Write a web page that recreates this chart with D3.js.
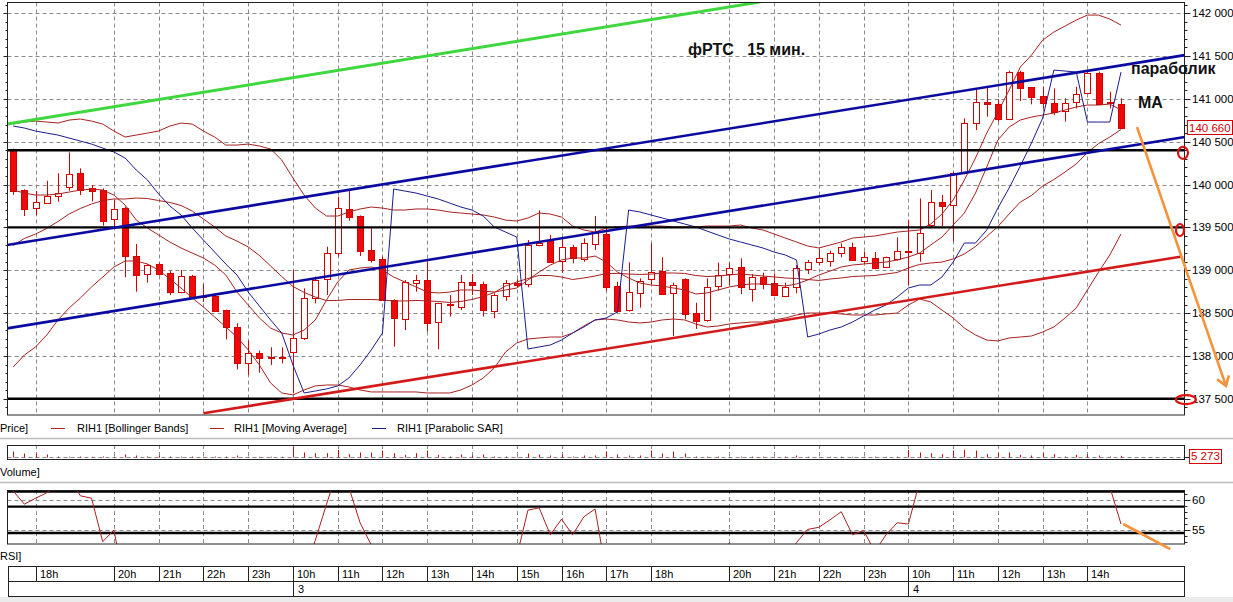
<!DOCTYPE html>
<html><head><meta charset="utf-8">
<script src="https://cdn.jsdelivr.net/npm/d3@7"></script>
<style>
html,body{margin:0;padding:0;background:#fff;}
svg{display:block;}
text{font-family:"Liberation Sans",Arial,sans-serif;}
</style></head><body>
<svg id="c" width="1233" height="602"></svg>
<script>
// ---------- DATA ----------
const openP  = [140410,139936,139723,139793,139874,139968,140131,139956,139936,139606,139723,139166,138953,139073,138964,138750,138937,138695,138704,138536,
138334,137914,138031,137992,137988,138042,138206,138672,138898,139198,139711,139633,139236,139131,138653,138428,138859,138886,138389,138603,
138575,138867,138840,138529,138700,138855,138840,139300,139353,139108,139275,139139,139307,139423,138816,138536,138743,138898,138992,138731,
138894,138498,138420,138816,138956,139034,138789,138925,138848,138704,138801,139023,139093,139100,139198,139267,139100,139139,139034,139131,
139225,139209,139520,139792,139761,140131,140714,140967,140940,140765,141317,141134,141033,140955,140862,140959,141064,141305,140963,140940];
const highP  = [140420,139945,139925,140045,140131,140376,140189,139995,139956,139820,139742,139306,139069,139089,138995,139003,138945,138840,138711,138540,
138381,138179,138062,138101,138101,139003,138789,138925,139275,139859,139936,139640,139489,139159,138661,138886,138945,139100,138622,138711,
138945,138956,138867,138731,138886,138894,139353,139700,139411,139384,139295,139373,139633,139509,138867,139093,138906,139314,139151,138855,
138906,138622,138906,139089,139093,139139,138956,138972,138964,138855,139061,139120,139244,139229,139314,139322,139217,139213,139159,139384,
139586,139839,139936,139878,140150,140772,141115,141142,140994,141329,141329,141140,141142,141123,141006,141142,141317,141317,141084,141006];
const lowP   = [139880,139633,139645,139773,139800,139929,139878,139804,139520,139509,138918,138750,138855,138941,138711,138731,138684,138630,138517,138194,
137844,137778,137805,137895,137914,137564,138186,138614,138711,139159,139579,139166,139089,138645,138109,138303,138750,138284,138078,138459,
138536,138711,138459,138439,138645,138801,138801,139280,139089,138972,139081,139100,139236,138762,138505,138517,138564,138840,138711,138233,
138427,138315,138400,138762,138828,138723,138634,138778,138700,138700,138731,138956,139061,139042,139151,139112,139073,139011,139026,139112,
138828,139100,139501,139516,139334,140120,140636,140792,140734,140753,140975,140936,140889,140811,140734,140889,141056,140940,140889,140648];
const closeP = [139925,139715,139793,139870,139905,140123,139929,139925,139579,139719,139166,138945,139058,138956,138739,138933,138692,138705,138529,138334,
137914,138031,137969,137976,137973,138206,138672,138886,139198,139723,139618,139229,139120,138653,138439,138859,138890,138389,138614,138587,
138867,138828,138536,138711,138855,138836,139295,139320,139100,139275,139151,139322,139431,138809,138529,138750,138879,138984,138719,138828,
138486,138400,138809,138945,139023,138801,138925,138840,138704,138809,139023,139100,139139,139198,139268,139120,139151,139022,139151,139229,
139209,139439,139792,139742,140131,140714,140959,140940,140765,141317,141134,141018,140948,140850,140955,141056,141298,140948,140948,140660];

const bbUpper = [140706,140730,140741,140730,140718,140753,140765,140741,140706,140625,140555,140578,140601,140625,140683,140718,140706,140625,140555,140461,
140461,140473,140450,140415,140286,140076,139878,139726,139633,139633,139680,139715,139738,139726,139703,139703,139715,139715,139703,139680,
139668,139656,139645,139621,139586,139575,139610,139668,139656,139621,139516,139470,139446,139493,139505,139516,139516,139516,139516,139505,
139505,139505,139516,139516,139516,139528,139493,139470,139423,139376,139330,139283,139260,139295,139330,139376,139388,139400,139423,139446,
139458,139470,139540,139656,139820,140053,140310,140601,140846,141103,141371,141511,141686,141780,141850,141920,141978,141978,141931,141861];
const bbLower = [137871,138011,138105,138245,138420,138560,138676,138805,138921,139038,139108,139108,139073,139003,138898,138793,138676,138571,138455,138338,
138221,138070,137895,137685,137568,137545,137603,137650,137661,137661,137638,137603,137580,137580,137580,137580,137580,137568,137568,137568,
137603,137661,137743,137860,138046,138151,138198,138210,138221,138221,138268,138350,138420,138431,138420,138396,138385,138396,138420,138431,
138420,138373,138338,138350,138373,138385,138396,138396,138420,138443,138478,138501,138501,138501,138490,138478,138478,138478,138490,138501,
138595,138665,138630,138536,138443,138326,138245,138186,138175,138210,138221,138233,138280,138338,138443,138560,138770,138980,139178,139423];
const bbMiddle = [139289,139371,139423,139488,139569,139657,139721,139773,139814,139832,139832,139843,139837,139814,139791,139756,139691,139598,139505,139400,
139341,139272,139173,139050,138927,138811,138741,138688,138647,138647,138659,138659,138659,138653,138642,138642,138648,138642,138636,138624,
138636,138659,138694,138741,138816,138863,138904,138939,138939,138921,138892,138910,138933,138962,138963,138956,138951,138956,138968,138968,
138963,138939,138927,138933,138945,138957,138945,138933,138922,138910,138904,138892,138881,138898,138910,138927,138933,138939,138957,138974,
139027,139068,139085,139096,139132,139190,139278,139394,139511,139657,139796,139872,139983,140059,140147,140240,140374,140479,140555,140642];
const maLine = [139936,139901,139878,139878,139890,139913,139936,139948,139936,139878,139761,139586,139493,139411,139330,139260,139201,139143,139061,138945,
138746,138595,138443,138326,138268,138245,138303,138420,138653,138863,139003,139026,139038,139003,138921,138863,138805,138746,138735,138746,
138770,138770,138758,138746,138770,138793,138886,138980,139061,139120,139143,139143,139166,139096,138980,138910,138851,138828,138816,138793,
138770,138723,138735,138770,138805,138828,138840,138840,138828,138816,138840,138886,138945,138991,139038,139061,139073,139085,139096,139120,
139155,139201,139295,139388,139528,139668,139901,140205,140520,140671,140753,140788,140811,140835,140870,140905,140928,140928,140940,140870];
const sarLine = [140683,140660,140625,140601,140578,140543,140508,140473,140426,140380,140310,140170,140053,139890,139750,139645,139493,139353,139213,139073,
138945,138746,138583,138420,138268,137895,137568,137591,137615,137650,137743,137895,138070,138268,139948,139925,139901,139866,139831,139785,
139738,139703,139633,139505,139446,139388,138081,138105,138128,138186,138268,138338,138420,138443,138513,139703,139680,139645,139610,139575,
139540,139505,139458,139411,139365,139330,139295,139260,139213,139178,139120,138221,138256,138303,138338,138396,138466,138536,138595,138688,
138793,138828,138828,138921,139096,139318,139318,139470,139726,139960,140216,140485,140776,141336,141325,141313,140730,140730,140730,141313];

const volume = [19200,12800,12800,9600,3000,2600,3000,2400,3400,2800,9600,6400,3500,6000,3000,2800,3000,2600,3000,2800,
6400,2500,2400,2600,2500,35000,16000,13800,13800,24600,10600,16000,16000,22400,13800,8600,13800,22400,8600,3200,
9600,6400,9600,3200,3000,3500,12800,9600,6400,9600,3200,6400,6400,19200,9600,6400,6400,22400,12800,19200,
12800,3000,2800,3000,2600,3000,2800,2600,3000,2800,6400,2500,2400,2600,2500,2400,2600,2500,2400,2600,
24600,16000,13800,10600,22400,24600,22400,10600,13800,16000,8600,6400,13800,10600,3200,8600,9600,6400,3200,5273];
const rsi = [61.5,59.3,60.3,61.2,62.5,64,60.7,60.3,53.05,55,45.3,45,46,45,42,43,40,40,38,35,
30,33,32,32,32,40,48,53.3,59.3,65,62.1,56.2,52.5,48,44,47,48,45,47,46,
48,48,46,47,49,50.6,58.3,58.7,54.2,56.8,54.2,57.2,58.5,47.8,46,48,50,51,49,50,
47,46,50,51,52.8,51,50,50,49,50,52.9,55.1,55.45,56.7,58.05,54.2,54.9,51.4,54.2,56.2,
56,63,68,67,70,75,77,76,74,78,75,72,70,67,68,69,72,65,62.2,56];

const priceTicks = [137500,138000,138500,139000,139500,140000,140500,141000,141500,142000];
const rsiTicks = [55,60];
const rsiLevels = [61.4,58.9,54.5];
const hourIdx = [2,9,13,17,21,25,29,33,37,41,45,49,53,57,64,68,72,76,80,84,88,92,96];
const hourLabels = ["18h","20h","21h","22h","23h","10h","11h","12h","13h","14h","15h","16h","17h","18h","20h","21h","22h","23h","10h","11h","12h","13h","14h"];
const dayIdx = [25,80];
const dayLabels = ["3","4"];
const hLevels = [140400,139500,137500];
const greenLine = [[-0.55,140706],[66.7,142130]];
const blueLine1 = [[-0.55,139295],[104.7,141511]];
const blueLine2 = [[-0.55,138322],[104.7,140555]];
const redLine = [[17.0,137331],[104.3,139158]];
const orangeArrow = [[100.43,140671],[108.38,137650]];
const rsiArrow = [[99.2,56],[103.4,51.8]];
const circles = [[104.54,140370,5,6],[104.27,139470,4,6],[104.8,137490,10,4.5]];
const legendItems = [["RIH1 [Bollinger Bands]","#b22222"],["RIH1 [Moving Average]","#b22222"],["RIH1 [Parabolic SAR]","#1c1c8c"]];

// ---------- LAYOUT ----------
const N = openP.length;
const L = 7.5, R = 1184.5;
const x = d3.scaleLinear().domain([0,99]).range([13.2,1121]);
const y = d3.scaleLinear().domain([137500,142000]).range([398.8,13.2]);
const yR = d3.scaleLinear().domain([55,60]).range([530,500]);
const yV = d3.scaleLinear().domain([0,40000]).range([457.5,445]);
const fmt = v => d3.format(",")(v).replace(/,/g," ");
const IND = "#a82020", CANDLE = "#d40000", GRID = "#8a8a8a", DASH = "4,3";

const svg = d3.select("#c");
const defs = svg.append("defs");
defs.append("clipPath").attr("id","cm").append("rect").attr("x",L).attr("y",2.5).attr("width",R-L).attr("height",412.5);
defs.append("clipPath").attr("id","cr").append("rect").attr("x",L).attr("y",490).attr("width",R-L).attr("height",54);
svg.append("rect").attr("width",1233).attr("height",602).attr("fill","#fff");

// ---------- MAIN PANEL ----------
const main = svg.append("g");
const mc = main.append("g").attr("clip-path","url(#cm)");
mc.selectAll("line.hg").data(priceTicks).join("line")
  .attr("x1",L).attr("x2",R).attr("y1",d=>Math.round(y(d))+0.5).attr("y2",d=>Math.round(y(d))+0.5)
  .attr("stroke",GRID).attr("stroke-dasharray",DASH);
mc.selectAll("line.vg").data(hourIdx).join("line")
  .attr("x1",d=>Math.round(x(d))+0.5).attr("x2",d=>Math.round(x(d))+0.5).attr("y1",2.5).attr("y2",415)
  .attr("stroke",GRID).attr("stroke-dasharray",DASH);

// candles
const cd = d3.range(N).map(i=>({i,o:openP[i],h:highP[i],l:lowP[i],c:closeP[i]}));
mc.selectAll("line.wk").data(cd).join("line")
  .attr("x1",d=>Math.round(x(d.i))+0.5).attr("x2",d=>Math.round(x(d.i))+0.5)
  .attr("y1",d=>y(d.h)).attr("y2",d=>y(d.l)).attr("stroke",CANDLE).attr("stroke-width",1);
mc.selectAll("rect.bd").data(cd).join("rect")
  .attr("x",d=>Math.round(x(d.i))-3+0.5).attr("width",6)
  .attr("y",d=>Math.round(y(Math.max(d.o,d.c)))+0.5)
  .attr("height",d=>Math.max(1,Math.round(Math.abs(y(d.o)-y(d.c)))))
  .attr("fill",d=>d.c<d.o?"#ee0a0a":"#fff").attr("stroke",CANDLE);

// indicators
const ln = d3.line().x((d,i)=>x(i)).y(d=>y(d));
[bbUpper,bbMiddle,bbLower,maLine].forEach(s=>{
  mc.append("path").attr("d",ln(s)).attr("fill","none").attr("stroke",IND).attr("stroke-width",1);
});
mc.append("path").attr("d",ln(sarLine)).attr("fill","none").attr("stroke","#1c1c8c").attr("stroke-width",1);

// drawn lines
const seg = d3.line().x(d=>x(d[0])).y(d=>y(d[1]));
mc.selectAll("line.hl").data(hLevels).join("line")
  .attr("x1",L).attr("x2",R).attr("y1",d=>y(d)).attr("y2",d=>y(d)).attr("stroke","#000").attr("stroke-width",2.4);
mc.append("path").attr("d",seg(greenLine)).attr("stroke","#3ed83e").attr("stroke-width",3).attr("fill","none");
mc.append("path").attr("d",seg(blueLine1)).attr("stroke","#0a0aa0").attr("stroke-width",2.6).attr("fill","none");
mc.append("path").attr("d",seg(blueLine2)).attr("stroke","#0a0aa0").attr("stroke-width",2.6).attr("fill","none");
mc.append("path").attr("d",seg(redLine)).attr("stroke","#d21a1a").attr("stroke-width",2.6).attr("fill","none");

// frame
main.append("rect").attr("x",L).attr("y",2.5).attr("width",R-L).attr("height",412.5).attr("fill","none").attr("stroke","#222");

// axes ticks
const minor = d3.range(137400,142101,100);
main.selectAll("line.rt").data(minor).join("line")
  .attr("x1",R).attr("x2",d=>R+(d%500===0?6:3)).attr("y1",d=>Math.round(y(d))+0.5).attr("y2",d=>Math.round(y(d))+0.5).attr("stroke","#222");
main.selectAll("line.lt").data(minor).join("line")
  .attr("x1",L).attr("x2",d=>L-(d%500===0?4:2)).attr("y1",d=>Math.round(y(d))+0.5).attr("y2",d=>Math.round(y(d))+0.5).attr("stroke","#222");
main.selectAll("text.pl").data(priceTicks).join("text")
  .attr("x",1192).attr("y",d=>y(d)+4).attr("font-size","11.5px").attr("fill","#000").text(fmt);

// last price label
const lastC = closeP[N-1];
main.append("rect").attr("x",1187.5).attr("y",Math.round(y(lastC))-7.5).attr("width",45).attr("height",14)
  .attr("fill","#fff").attr("stroke","#d40000");
main.append("text").attr("x",1189).attr("y",y(lastC)+4).attr("font-size","11.5px").attr("fill","#d40000").text(fmt(lastC));

// annotations
const ann = svg.append("g");
ann.selectAll("ellipse").data(circles).join("ellipse")
  .attr("cx",d=>x(d[0])).attr("cy",d=>y(d[1])).attr("rx",d=>d[2]).attr("ry",d=>d[3])
  .attr("fill","none").attr("stroke","#e01010").attr("stroke-width",2.2);
ann.append("path").attr("d",seg(orangeArrow)).attr("stroke","#f5923a").attr("stroke-width",2.6).attr("fill","none");
{
  const p0=orangeArrow[0], p1=orangeArrow[1];
  const tx=x(p1[0]), ty=y(p1[1]), ang=Math.atan2(ty-y(p0[1]), tx-x(p0[0]));
  const a1=ang+Math.PI-0.6, a2=ang+Math.PI+0.6, len=11;
  ann.append("path").attr("d",`M${tx+len*Math.cos(a1)},${ty+len*Math.sin(a1)}L${tx},${ty}L${tx+len*Math.cos(a2)},${ty+len*Math.sin(a2)}`)
    .attr("stroke","#f5923a").attr("stroke-width",2.6).attr("fill","none");
}
ann.append("text").attr("x",688).attr("y",55).attr("font-family","'Open Sans',sans-serif").attr("font-weight",700)
  .attr("font-size","16px").style("white-space","pre").attr("fill","#111").text("фРТС   15 мин.");
ann.append("text").attr("x",1131).attr("y",74).attr("font-family","'Open Sans',sans-serif").attr("font-weight",700)
  .attr("font-size","16px").attr("fill","#111").text("параболик");
ann.append("text").attr("x",1138).attr("y",108).attr("font-family","'Open Sans',sans-serif").attr("font-weight",700)
  .attr("font-size","16px").attr("fill","#111").text("MA");

// ---------- LEGEND ----------
svg.append("text").attr("x",0).attr("y",432).attr("font-size","11px").text("Price]");
const lx = [[51,77],[210,234],[372,397]];
legendItems.forEach((d,k)=>{
  svg.append("line").attr("x1",lx[k][0]).attr("x2",lx[k][0]+14).attr("y1",428.5).attr("y2",428.5).attr("stroke",d[1]);
  svg.append("text").attr("x",lx[k][1]).attr("y",432).attr("font-size","11px").text(d[0]);
});
[438.5,482.5].forEach(v=>{
  svg.append("line").attr("x1",0).attr("x2",1233).attr("y1",v).attr("y2",v).attr("stroke","#bdbdbd").attr("stroke-width",1.5);
});

// ---------- VOLUME ----------
const vg = svg.append("g");
vg.selectAll("line.vv").data(hourIdx).join("line")
  .attr("x1",d=>Math.round(x(d))+0.5).attr("x2",d=>Math.round(x(d))+0.5).attr("y1",445).attr("y2",459.5)
  .attr("stroke",GRID).attr("stroke-dasharray",DASH);
vg.append("line").attr("x1",L).attr("x2",R).attr("y1",457.5).attr("y2",457.5).attr("stroke",GRID).attr("stroke-dasharray",DASH);
vg.selectAll("line.vb").data(volume).join("line")
  .attr("x1",(d,i)=>Math.round(x(i))+0.5).attr("x2",(d,i)=>Math.round(x(i))+0.5)
  .attr("y1",yV(0)).attr("y2",d=>yV(d)).attr("stroke","#c01010");
vg.append("rect").attr("x",L).attr("y",445.5).attr("width",R-L).attr("height",14).attr("fill","none").attr("stroke","#222");
vg.append("line").attr("x1",R).attr("x2",R+6).attr("y1",457.5).attr("y2",457.5).attr("stroke","#222");
const lastV = volume[N-1];
vg.append("rect").attr("x",1189.5).attr("y",Math.round(yV(lastV))-6.5).attr("width",32).attr("height",14).attr("fill","#fff").attr("stroke","#d40000");
vg.append("text").attr("x",1191).attr("y",yV(lastV)+4.5).attr("font-size","11.5px").attr("fill","#d40000").text(fmt(lastV));
svg.append("text").attr("x",0).attr("y",476).attr("font-size","11px").text("Volume]");

// ---------- RSI ----------
const rg = svg.append("g");
const rc = rg.append("g").attr("clip-path","url(#cr)");
rc.selectAll("line.rh").data(rsiTicks).join("line")
  .attr("x1",L).attr("x2",R).attr("y1",d=>Math.round(yR(d))+0.5).attr("y2",d=>Math.round(yR(d))+0.5)
  .attr("stroke",GRID).attr("stroke-dasharray",DASH);
rc.selectAll("line.rv").data(hourIdx).join("line")
  .attr("x1",d=>Math.round(x(d))+0.5).attr("x2",d=>Math.round(x(d))+0.5).attr("y1",490).attr("y2",544)
  .attr("stroke",GRID).attr("stroke-dasharray",DASH);
rc.selectAll("line.rl").data(rsiLevels).join("line")
  .attr("x1",L).attr("x2",R).attr("y1",d=>yR(d)).attr("y2",d=>yR(d)).attr("stroke","#000").attr("stroke-width",2.4);
rc.append("path").attr("d",d3.line().x((d,i)=>x(i)).y(d=>yR(d))(rsi)).attr("fill","none").attr("stroke",IND);
rg.append("rect").attr("x",L).attr("y",490.5).attr("width",R-L).attr("height",53.5).attr("fill","none").attr("stroke","#222");
rg.selectAll("line.rtk").data(d3.range(53,62)).join("line")
  .attr("x1",R).attr("x2",d=>R+(d%5===0?6:3)).attr("y1",d=>Math.round(yR(d))+0.5).attr("y2",d=>Math.round(yR(d))+0.5).attr("stroke","#222");
rg.selectAll("text.rtl").data(rsiTicks).join("text")
  .attr("x",1192).attr("y",d=>yR(d)+4).attr("font-size","11.5px").text(d=>d);
rg.append("path").attr("d",d3.line().x(d=>x(d[0])).y(d=>yR(d[1]))(rsiArrow)).attr("stroke","#f5923a").attr("stroke-width",2.6).attr("fill","none");
svg.append("text").attr("x",0).attr("y",560).attr("font-size","11px").text("RSI]");

// ---------- TIME AXIS ----------
const ta = svg.append("g");
ta.append("rect").attr("x",8.5).attr("y",566.5).attr("width",R-8.5).attr("height",30).attr("fill","#fff").attr("stroke","#222");
ta.append("line").attr("x1",8.5).attr("x2",R).attr("y1",581.5).attr("y2",581.5).attr("stroke","#222");
ta.selectAll("line.ts").data(hourIdx).join("line")
  .attr("x1",d=>Math.round(x(d))+0.5).attr("x2",d=>Math.round(x(d))+0.5).attr("y1",566.5).attr("y2",581.5).attr("stroke","#222");
ta.selectAll("text.tl").data(hourIdx).join("text")
  .attr("x",d=>Math.round(x(d))+4).attr("y",578).attr("font-size","11px").text((d,i)=>hourLabels[i]);
ta.selectAll("line.ds").data(dayIdx).join("line")
  .attr("x1",d=>Math.round(x(d))+0.5).attr("x2",d=>Math.round(x(d))+0.5).attr("y1",581.5).attr("y2",596.5).attr("stroke","#222");
ta.selectAll("text.dl").data(dayIdx).join("text")
  .attr("x",d=>Math.round(x(d))+5).attr("y",593).attr("font-size","11px").text((d,i)=>dayLabels[i]);
svg.append("rect").attr("x",0).attr("y",597).attr("width",1233).attr("height",5).attr("fill","#ebebeb");
</script>
</body></html>
